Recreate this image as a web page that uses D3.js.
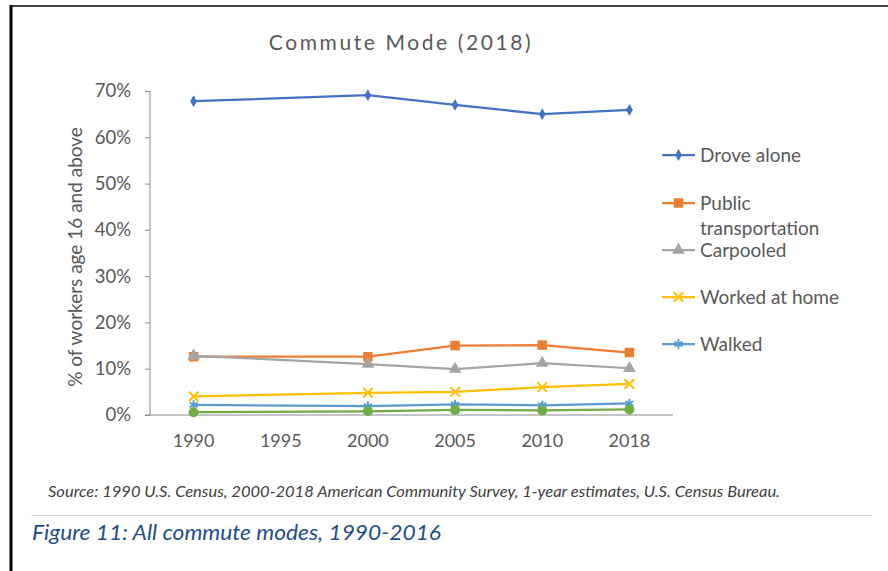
<!DOCTYPE html>
<html>
<head>
<meta charset="utf-8">
<script src="https://cdn.jsdelivr.net/npm/d3@7"></script>
<style>
  html, body { margin: 0; padding: 0; background: #fff; }
  svg { display: block; font-family: Lato, "Open Sans", sans-serif; }
</style>
</head>
<body>
<svg id="chart" width="888" height="571"></svg>
<script>
(function(d3) {
    'use strict';

    // tick labels on the category axis (1995 has no data)
    var years = ['1990', '1995', '2000', '2005', '2010', '2018'];
    var dataYears = ['1990', '2000', '2005', '2010', '2018'];

    var droveAlone = [67.8, 69.1, 67.0, 65.0, 65.9];
    var publicTransportation = [12.6, 12.6, 15.0, 15.1, 13.5];
    var carpooled = [12.8, 11.0, 9.9, 11.2, 10.1];
    var workedAtHome = [4.0, 4.8, 5.0, 6.0, 6.7];
    var walked = [2.2, 1.9, 2.3, 2.1, 2.5];
    var bicycled = [0.6, 0.8, 1.1, 1.0, 1.2];

    var yTicks = [0, 10, 20, 30, 40, 50, 60, 70];

    var series = [
        {name: 'Drove alone', values: droveAlone, color: '#4472c4', marker: 'diamond', legend: true},
        {name: 'Public transportation', values: publicTransportation, color: '#ed7d31', marker: 'square', legend: true},
        {name: 'Carpooled', values: carpooled, color: '#a5a5a5', marker: 'triangle', legend: true},
        {name: 'Worked at home', values: workedAtHome, color: '#ffc000', marker: 'x', legend: true},
        {name: 'Walked', values: walked, color: '#5b9bd5', marker: 'star', legend: true},
        {name: 'Bicycled', values: bicycled, color: '#70ad47', marker: 'circle', legend: false}
    ];

    var svg = d3.select('#chart');

    // page frame
    svg.append('line').attr('x1', 10).attr('x2', 888).attr('y1', 6).attr('y2', 6)
        .attr('stroke', '#444').attr('stroke-width', 2);
    svg.append('line').attr('x1', 11).attr('x2', 11).attr('y1', 5).attr('y2', 571)
        .attr('stroke', '#000').attr('stroke-width', 3);

    var x = d3.scaleBand().domain(years).range([150, 673]);
    var y = d3.scaleLinear().domain([0, 70]).range([415, 91]);
    var cx = function(yr) { return x(yr) + x.bandwidth() / 2; };

    svg.append('text')
        .attr('x', 401).attr('y', 50)
        .attr('text-anchor', 'middle')
        .attr('font-size', 21).attr('letter-spacing', 2.6)
        .attr('fill', '#595959')
        .text('Commute Mode (2018)');

    // y axis
    var yAxis = svg.append('g').attr('transform', 'translate(150,0)')
        .call(d3.axisLeft(y).tickValues(yTicks).tickSize(5).tickPadding(14)
            .tickFormat(function(d) { return d + '%'; }));
    yAxis.selectAll('path, line').attr('stroke', '#8c8c8c');
    yAxis.select('.domain').attr('d', 'M0,415V91');
    yAxis.selectAll('text').attr('font-size', 18.5).attr('fill', '#595959')
        .attr('font-family', 'Lato, sans-serif');

    // x axis
    var xAxis = svg.append('g').attr('transform', 'translate(0,415)')
        .call(d3.axisBottom(x).tickSize(0).tickPadding(19));
    xAxis.select('.domain').attr('stroke', '#8c8c8c').attr('d', 'M145,0H673');
    xAxis.selectAll('text').attr('font-size', 18).attr('fill', '#595959')
        .attr('font-family', 'Lato, sans-serif');

    svg.append('text')
        .attr('transform', 'translate(82,257) rotate(-90)')
        .attr('text-anchor', 'middle')
        .attr('font-size', 19).attr('fill', '#595959')
        .text('% of workers age 16 and above');

    var symbolFor = {
        diamond: d3.symbol().type(d3.symbolDiamond).size(40),
        square: d3.symbol().type(d3.symbolSquare).size(90),
        triangle: d3.symbol().type(d3.symbolTriangle).size(70),
        circle: d3.symbol().type(d3.symbolCircle).size(80),
        star: d3.symbol().type(d3.symbolAsterisk).size(60),
        x: d3.symbol().type(d3.symbolX).size(60)
    };

    function drawMarker(g, s, px, py) {
        var p = g.append('path').attr('d', symbolFor[s.marker]())
            .attr('transform', 'translate(' + px + ',' + py + ')');
        if (s.marker === 'x' || s.marker === 'star') {
            p.attr('fill', 'none').attr('stroke', s.color).attr('stroke-width', 2);
        } else {
            p.attr('fill', s.color);
        }
    }

    var line = d3.line()
        .x(function(d) { return cx(d.year); })
        .y(function(d) { return y(d.value); });

    // later series paint over earlier ones, as in the spreadsheet
    series.forEach(function(s) {
        var pts = dataYears.map(function(yr, i) { return {year: yr, value: s.values[i]}; });
        var g = svg.append('g');
        g.append('path').datum(pts).attr('d', line)
            .attr('fill', 'none').attr('stroke', s.color).attr('stroke-width', 2.25)
            .attr('stroke-linejoin', 'round');
        pts.forEach(function(p) { drawMarker(g, s, cx(p.year), y(p.value)); });
    });

    // legend
    var legendRows = [155, 203, 250, 297, 344];
    series.filter(function(s) { return s.legend; }).forEach(function(s, i) {
        var ly = legendRows[i];
        var g = svg.append('g');
        g.append('line').attr('x1', 662).attr('x2', 695).attr('y1', ly).attr('y2', ly)
            .attr('stroke', s.color).attr('stroke-width', 2.25);
        drawMarker(g, s, 678.5, ly);
        var t = g.append('text').attr('x', 700).attr('y', ly + 6.5)
            .attr('font-size', 19).attr('fill', '#595959');
        if (s.name === 'Public transportation') {
            t.append('tspan').attr('x', 700).text('Public');
            t.append('tspan').attr('x', 700).attr('dy', 25).text('transportation');
        } else {
            t.text(s.name);
        }
    });

    svg.append('text')
        .attr('x', 48).attr('y', 497)
        .attr('font-size', 14.5).attr('font-style', 'italic').attr('fill', '#404040')
        .attr('textLength', 732).attr('lengthAdjust', 'spacingAndGlyphs')
        .text('Source: 1990 U.S. Census, 2000-2018 American Community Survey, 1-year estimates, U.S. Census Bureau.');

    svg.append('line').attr('x1', 31).attr('x2', 872).attr('y1', 515.5).attr('y2', 515.5)
        .attr('stroke', '#d9d9d9').attr('stroke-width', 1);

    svg.append('text')
        .attr('x', 32).attr('y', 540)
        .attr('font-size', 21.5).attr('font-style', 'italic').attr('fill', '#1f4e8c')
        .attr('textLength', 409).attr('lengthAdjust', 'spacingAndGlyphs')
        .text('Figure 11: All commute modes, 1990-2016');
}(d3));
</script>
</body>
</html>
